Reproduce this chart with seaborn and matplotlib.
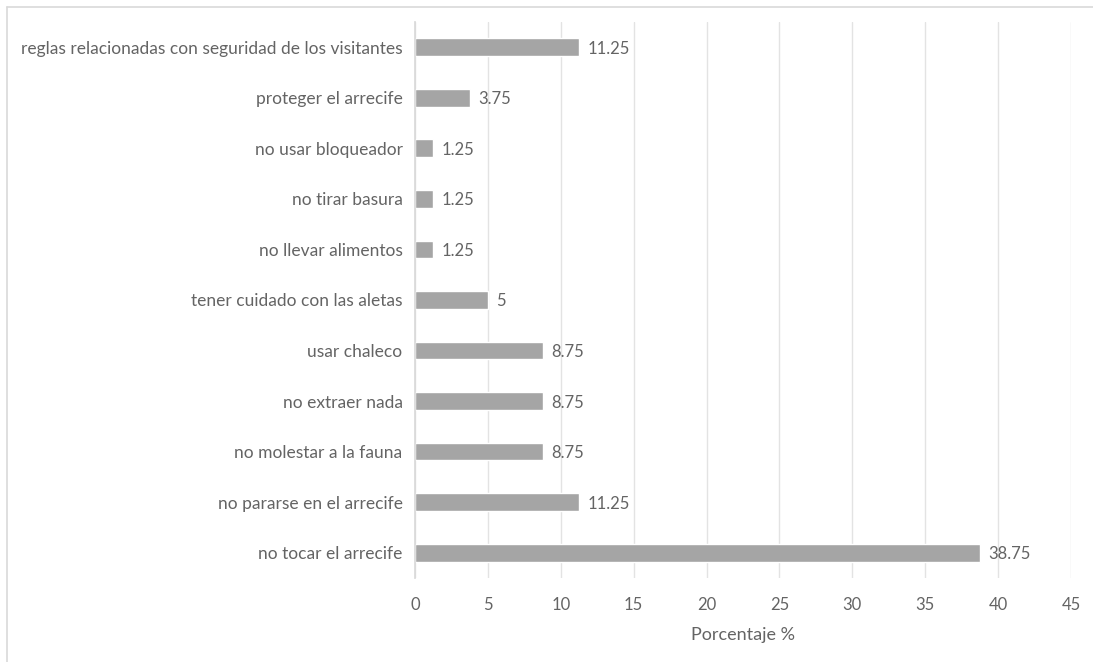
import pandas as pd
import seaborn as sns
import matplotlib.pyplot as plt
from matplotlib.lines import Line2D

categorias = [
    "reglas relacionadas con seguridad de los visitantes",
    "proteger el arrecife",
    "no usar bloqueador",
    "no tirar basura",
    "no llevar alimentos",
    "tener cuidado con las aletas",
    "usar chaleco",
    "no extraer nada",
    "no molestar a la fauna",
    "no pararse en el arrecife",
    "no tocar el arrecife",
]
porcentajes = [11.25, 3.75, 1.25, 1.25, 1.25, 5, 8.75, 8.75, 8.75, 11.25, 38.75]
etiquetas = ["11.25", "3.75", "1.25", "1.25", "1.25", "5", "8.75", "8.75", "8.75", "11.25", "38.75"]
ticks_x = [0, 5, 10, 15, 20, 25, 30, 35, 40, 45]

dados = pd.DataFrame({"Regla": categorias, "Porcentaje": porcentajes})

sns.set_theme(style="white")
plt.rcParams["font.family"] = ["Lato", "DejaVu Sans"]
texto = "#646464"

fig = plt.figure(figsize=(10.93, 6.62), dpi=100)
ax = fig.add_axes([0.3797, 0.1269, 0.6002, 0.8399])

sns.barplot(data=dados, x="Porcentaje", y="Regla", orient="h",
            color="#a5a5a5", saturation=1, width=0.35, ax=ax)

etiq = ax.bar_label(ax.containers[0], labels=etiquetas, padding=6,
                    fontsize=12, color=texto)
for t in etiq:
    t.set_va("center_baseline")

ax.set_xlim(0, 45)
ax.set_xticks(ticks_x)
ax.set_xlabel("Porcentaje %", fontsize=13, color=texto, labelpad=10)
ax.set_ylabel("")
ax.tick_params(axis="both", length=0, colors=texto)
ax.tick_params(axis="x", pad=14, labelsize=12)
ax.tick_params(axis="y", pad=9, labelsize=12.5)

ax.grid(axis="x", color="#e3e3e3", linewidth=1)
ax.set_axisbelow(True)
for lado in ["top", "right", "bottom"]:
    ax.spines[lado].set_visible(False)
ax.spines["left"].set_color("#d9d9d9")

# borde del area del grafico (solo se ve arriba y a la izquierda)
fig.add_artist(Line2D([7 / 1093, 7 / 1093], [0, 1 - 7 / 662], color="#d9d9d9", lw=1.2))
fig.add_artist(Line2D([7 / 1093, 1], [1 - 7 / 662, 1 - 7 / 662], color="#d9d9d9", lw=1.2))

plt.savefig("out.png", dpi=100)
plt.close()
